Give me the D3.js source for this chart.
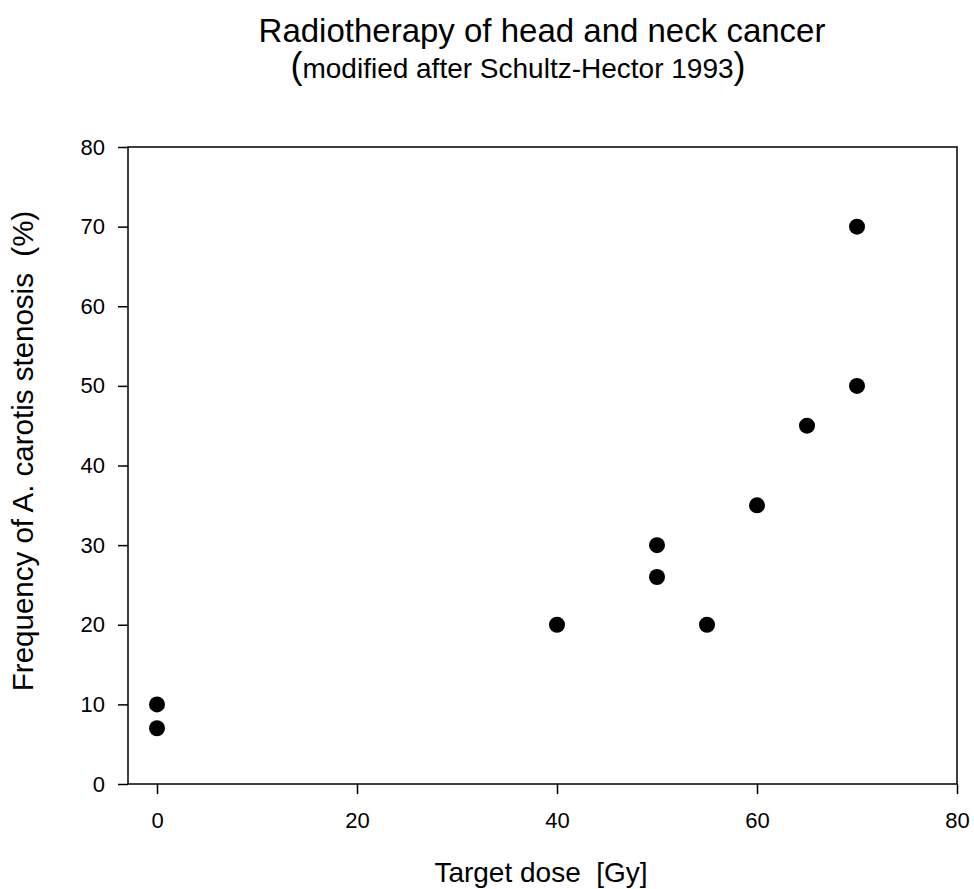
<!DOCTYPE html>
<html>
<head>
<meta charset="utf-8">
<script src="https://cdn.jsdelivr.net/npm/d3@7"></script>
<style>
  html, body { margin: 0; padding: 0; background: #fff; }
  svg { display: block; font-family: Arial, "Liberation Sans", sans-serif; }
  .tick text { font-size: 22px; font-family: Arial, "Liberation Sans", sans-serif; fill: #000; }
</style>
</head>
<body>
<svg id="chart" width="974" height="889"></svg>
<script>
// Data
const doseGy = [0, 0, 40, 50, 50, 55, 60, 65, 70, 70];
const stenosisPct = [10, 7, 20, 30, 26, 20, 35, 45, 50, 70];
const xTicks = [0, 20, 40, 60, 80];
const yTicks = [0, 10, 20, 30, 40, 50, 60, 70, 80];
const titleText = "Radiotherapy of head and neck cancer";
const subtitleText = "modified after Schultz-Hector 1993";
const xLabel = "Target dose  [Gy]";
const yLabel = "Frequency of A. carotis stenosis  (%)";

(function () {
const svg = d3.select("#chart");
const pLeft = 128, pRight = 957, pTop = 147, pBottom = 784;

const x = d3.scaleLinear().domain([0, 80]).range([157, 957]);
const y = d3.scaleLinear().domain([0, 80]).range([pBottom, pTop]);

// Frame
svg.append("rect")
  .attr("x", pLeft).attr("y", pTop)
  .attr("width", pRight - pLeft).attr("height", pBottom - pTop)
  .attr("fill", "none").attr("stroke", "#000").attr("stroke-width", 1.5);

// X axis
const xAxis = svg.append("g")
  .attr("transform", `translate(0,${pBottom})`)
  .call(d3.axisBottom(x).tickValues(xTicks).tickSize(10).tickSizeOuter(0).tickPadding(18));
xAxis.select(".domain").remove();
xAxis.selectAll("line").attr("stroke", "#000").attr("stroke-width", 1.5);

// Y axis
const yAxis = svg.append("g")
  .attr("transform", `translate(${pLeft},0)`)
  .call(d3.axisLeft(y).tickValues(yTicks).tickSize(10).tickSizeOuter(0).tickPadding(13));
yAxis.select(".domain").remove();
yAxis.selectAll("line").attr("stroke", "#000").attr("stroke-width", 1.5);

// Points
svg.append("g").selectAll("circle")
  .data(doseGy.map((d, i) => ({ d, v: stenosisPct[i] })))
  .join("circle")
  .attr("cx", p => x(p.d))
  .attr("cy", p => y(p.v))
  .attr("r", 8)
  .attr("fill", "#000");

// Title
svg.append("text")
  .attr("x", 542).attr("y", 42)
  .attr("text-anchor", "middle")
  .attr("font-size", 33)
  .text(titleText);

const sub = svg.append("text")
  .attr("x", 518).attr("y", 78)
  .attr("text-anchor", "middle")
  .attr("font-size", 28);
sub.append("tspan").attr("font-size", 36).text("(");
sub.append("tspan").text(subtitleText);
sub.append("tspan").attr("font-size", 36).text(")");

// Axis labels
svg.append("text")
  .attr("x", 541).attr("y", 882)
  .attr("text-anchor", "middle")
  .attr("font-size", 28)
  .style("white-space", "pre")
  .text(xLabel);

svg.append("text")
  .attr("transform", `translate(33,451) rotate(-90)`)
  .attr("text-anchor", "middle")
  .attr("font-size", 29.5)
  .style("white-space", "pre")
  .text(yLabel);
})();
</script>
</body>
</html>
